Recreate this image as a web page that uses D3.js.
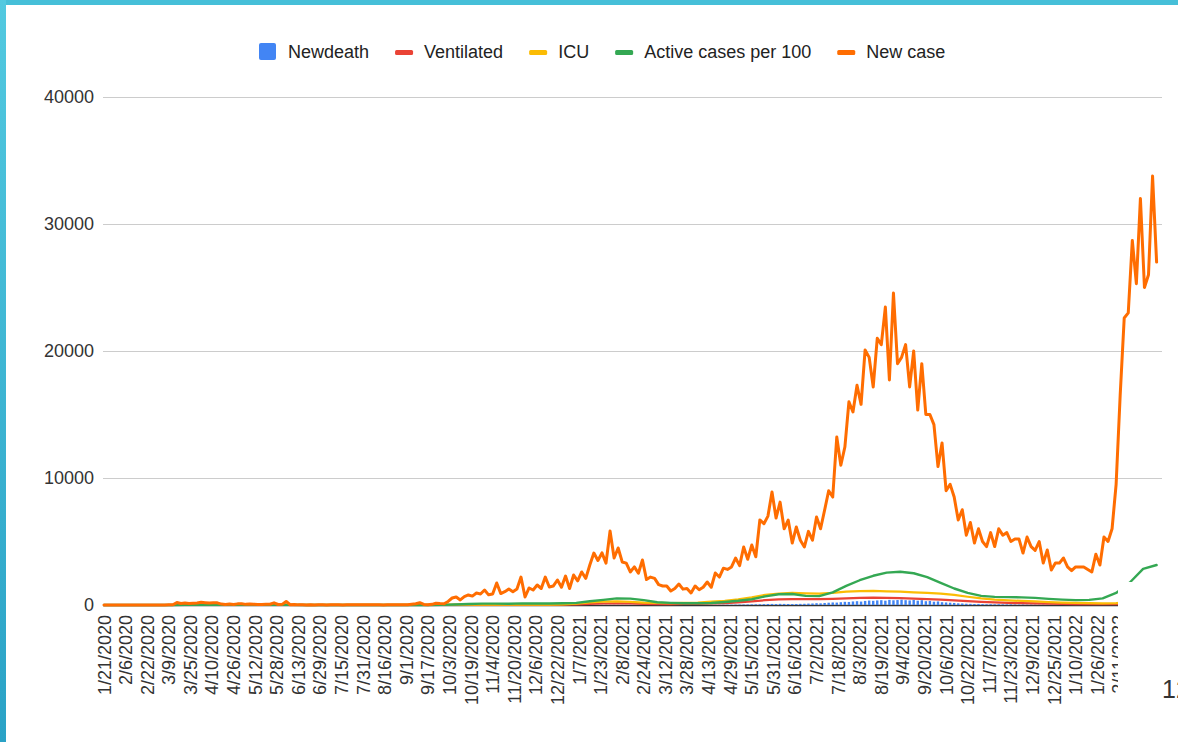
<!DOCTYPE html>
<html>
<head>
<meta charset="utf-8">
<script src="https://cdn.jsdelivr.net/npm/d3@7"></script>
<style>
html, body { margin: 0; padding: 0; background: #fff; }
svg { display: block; font-family: "Liberation Sans", Arial, sans-serif; }
</style>
</head>
<body>
<svg width="1178" height="742"></svg>
<script>
// first day of the daily data, and spacing (in days) between the values
var startDate = "1/21/2020";
var dailyStep = 3;
var smoothStep = 10;

var tickLabels = ["1/21/2020","2/6/2020","2/22/2020","3/9/2020","3/25/2020","4/10/2020","4/26/2020",
	"5/12/2020","5/28/2020","6/13/2020","6/29/2020","7/15/2020","7/31/2020","8/16/2020","9/1/2020",
	"9/17/2020","10/3/2020","10/19/2020","11/4/2020","11/20/2020","12/6/2020","12/22/2020","1/7/2021",
	"1/23/2021","2/8/2021","2/24/2021","3/12/2021","3/28/2021","4/13/2021","4/29/2021","5/15/2021",
	"5/31/2021","6/16/2021","7/2/2021","7/18/2021","8/3/2021","8/19/2021","9/4/2021","9/20/2021",
	"10/6/2021","10/22/2021","11/7/2021","11/23/2021","12/9/2021","12/25/2021","1/10/2022","1/26/2022",
	"2/11/2022"];

var yTicks = [0, 10000, 20000, 30000, 40000];

var seriesNames = ["Newdeath", "Ventilated", "ICU", "Active cases per 100", "New case"];
var seriesColors = ["#4285f4", "#ea4335", "#fbbc04", "#34a853", "#ff6d01"];

// every 3 days
var newDeath = [
	0,0,0,0,0,0,0,0,0,0,
	0,0,0,0,0,0,0,0,1,2,
	2,3,4,3,4,3,2,3,2,1,
	1,1,1,0,1,0,0,1,0,0,
	0,1,0,0,0,0,0,0,0,0,
	0,0,0,0,0,0,0,0,0,0,
	0,0,0,0,0,0,0,0,0,0,
	0,0,0,0,0,0,0,1,0,0,
	0,1,1,0,1,1,2,2,1,3,
	3,2,4,3,5,3,4,2,3,4,
	3,5,4,3,2,4,3,2,3,4,
	3,5,4,6,5,4,3,6,5,8,
	10,12,9,14,16,12,15,13,10,9,
	12,8,7,6,5,4,6,3,4,3,
	5,2,4,3,6,4,5,8,7,10,
	12,15,17,20,25,22,30,35,40,45,
	50,55,60,70,80,85,75,90,85,80,
	75,80,90,95,110,120,140,130,160,180,
	200,190,220,250,240,280,300,270,320,350,
	330,360,380,340,400,370,390,420,380,360,
	400,340,380,300,320,260,280,220,200,180,
	160,130,120,100,90,80,85,70,60,65,
	55,60,50,45,50,40,35,40,30,35,
	30,25,28,20,22,18,15,20,14,12,
	10,15,12,10,14,16,20,18,25,30,
	35,40,50,55,60,70,65,80,75,85,90];

// every 3 days
var newCase = [
	0,3,1,0,2,0,1,0,0,0,
	0,0,0,0,3,5,20,20,190,120,
	150,110,130,150,210,180,150,180,170,70,
	40,70,40,90,100,50,70,60,40,30,
	50,60,170,40,50,280,20,30,10,20,
	5,10,5,15,10,5,10,20,10,5,
	15,20,10,20,10,15,10,20,10,5,
	20,15,10,25,10,20,60,100,180,40,
	20,50,140,110,100,280,550,630,400,660,
	790,700,940,870,1180,800,870,1730,900,1050,
	1260,1050,1260,2200,630,1340,1180,1575,1300,2200,
	1420,1500,1970,1400,2280,1300,2360,1900,2600,2100,
	3150,4090,3500,4100,3300,5830,3700,4490,3390,3300,
	2600,3000,2500,3540,2000,2200,2100,1600,1500,1500,
	1100,1300,1650,1250,1300,950,1500,1200,1400,1810,
	1400,2520,2200,2900,2800,3000,3700,3100,4570,3600,
	4720,3800,6700,6400,7000,8900,6850,8100,6000,6690,
	4880,6140,5100,4570,5800,5100,6930,6000,7480,9000,
	8500,13230,11000,12440,16000,15200,17300,15800,20080,19500,
	17170,21000,20500,23460,17720,24570,19000,19500,20500,17170,
	20000,15350,19000,15000,15000,14200,10900,12760,9000,9500,
	8500,6690,7500,5500,6500,4880,6000,5000,4600,5700,
	4600,6000,5500,5700,5000,5200,5200,4090,5350,4600,
	4300,5000,3310,4330,2760,3300,3300,3700,3000,2700,
	3000,3000,3000,2800,2600,4000,3150,5350,5000,6000,
	9500,16500,22600,23000,28700,25300,32000,25000,26000,33780,27000];

// every 10 days
var ventilated = [
	0,0,0,0,0,0,15,30,30,20,
	12,8,5,4,3,2,2,2,2,2,
	2,2,2,2,2,2,8,12,15,12,
	10,15,12,15,25,45,90,120,130,120,
	90,75,70,80,90,120,150,210,290,380,
	440,470,470,460,480,520,560,580,560,540,
	500,460,420,370,310,250,200,170,150,130,
	110,90,75,65,60,60,75,90,100];

var icu = [
	0,0,0,0,0,1,30,60,60,40,
	25,15,10,8,5,4,3,3,3,3,
	3,3,3,4,5,5,25,30,35,30,
	25,40,30,35,55,100,200,270,280,250,
	180,160,150,170,190,260,330,450,600,800,
	900,950,920,900,950,1050,1100,1120,1080,1050,
	1000,950,900,800,650,520,420,360,320,280,
	230,190,160,140,130,150,200,250,270];

var activePer100 = [
	0,0,0,0,0,1,8,18,25,20,
	15,12,9,9,8,2,1,1,1,1,
	1,1,1,2,3,6,40,80,110,110,
	100,130,120,120,140,170,300,400,520,500,
	380,220,170,140,140,160,240,330,450,680,
	850,870,720,700,1000,1500,1950,2300,2550,2620,
	2500,2200,1750,1300,950,720,640,620,600,560,
	480,420,380,400,520,950,1750,2850,3150];

var parseDate = d3.timeParse("%m/%d/%Y");
var t0 = parseDate(startDate);
function dated(values, step) {
	return values.map(function(v, i) { return { date: d3.timeDay.offset(t0, i * step), value: v }; });
}

var svg = d3.select("svg");
var svgWidth = 1178, svgHeight = 742;
var margin = { top: 97, right: 16, bottom: 137, left: 103 },
	plotRight = svgWidth - margin.right,
	baseY = svgHeight - margin.bottom;

// slide background behind the pasted chart
var grad = svg.append("defs").append("linearGradient")
	.attr("id", "side").attr("x1", 0).attr("y1", 0).attr("x2", 0).attr("y2", 1);
grad.append("stop").attr("offset", "0%").attr("stop-color", "#52c9e0");
grad.append("stop").attr("offset", "100%").attr("stop-color", "#2aa2c6");
svg.append("rect").attr("width", svgWidth).attr("height", svgHeight).attr("fill", "#fff");
svg.append("rect").attr("width", svgWidth).attr("height", 5).attr("fill", "#46bfd8");
svg.append("rect").attr("width", 6).attr("height", svgHeight).attr("fill", "url(#side)");

var xScale = d3.scaleTime()
	.domain([t0, d3.timeDay.offset(t0, 784)])
	.range([104, 1162]);

var yScale = d3.scaleLinear()
	.domain([0, 40000])
	.range([baseY, margin.top]);

// gridlines + y labels
var yAxis = d3.axisLeft(yScale)
	.tickValues(yTicks)
	.tickSize(-(plotRight - margin.left))
	.tickPadding(9)
	.tickFormat(function(d) { return d; });

var gy = svg.append("g")
	.attr("transform", "translate(" + margin.left + ",0)")
	.call(yAxis);
gy.select(".domain").remove();
gy.selectAll(".tick line").attr("stroke", "#cccccc").attr("stroke-width", 1);
gy.selectAll(".tick text")
	.attr("fill", "#333")
	.style("font-size", "18px")
	.style("font-family", "'Liberation Sans', Arial, sans-serif");

// baseline
svg.append("line")
	.attr("x1", margin.left).attr("x2", plotRight)
	.attr("y1", baseY + 0.5).attr("y2", baseY + 0.5)
	.attr("stroke", "#333").attr("stroke-width", 1.5);

// x labels, rotated
svg.append("g")
	.selectAll("text")
	.data(tickLabels)
	.enter().append("text")
		.attr("transform", function(d) {
			return "translate(" + (xScale(parseDate(d)) + 6.5) + "," + (baseY + 10) + ") rotate(-90)";
		})
		.attr("text-anchor", "end")
		.attr("fill", "#333")
		.style("font-size", "18px")
		.text(function(d) { return d; });

// Newdeath as thin columns
svg.append("g")
	.selectAll("rect")
	.data(dated(newDeath, dailyStep).filter(function(d) { return d.value > 0; }))
	.enter().append("rect")
		.attr("x", function(d) { return xScale(d.date) - 1.2; })
		.attr("width", 2.4)
		.attr("y", function(d) { return yScale(d.value); })
		.attr("height", function(d) { return baseY - yScale(d.value); })
		.attr("fill", seriesColors[0]);

var line = d3.line()
	.x(function(d) { return xScale(d.date); })
	.y(function(d) { return yScale(d.value); });

var lines = [
	{ data: dated(ventilated, smoothStep), color: seriesColors[1], w: 2.2 },
	{ data: dated(icu, smoothStep), color: seriesColors[2], w: 2.2 },
	{ data: dated(activePer100, smoothStep), color: seriesColors[3], w: 2.4 },
	{ data: dated(newCase, dailyStep), color: seriesColors[4], w: 3 }
];

lines.forEach(function(s) {
	svg.append("path")
		.datum(s.data)
		.attr("fill", "none")
		.attr("stroke", s.color)
		.attr("stroke-width", s.w)
		.attr("stroke-linejoin", "round")
		.attr("stroke-linecap", "round")
		.attr("d", line);
});

// legend
var legend = svg.append("g").attr("class", "legend");
var lx = 259, ly = 52;
seriesNames.forEach(function(name, i) {
	if (i == 0) {
		legend.append("rect")
			.attr("x", lx).attr("y", ly - 9).attr("width", 17).attr("height", 17)
			.attr("rx", 2).attr("fill", seriesColors[i]);
	} else {
		legend.append("rect")
			.attr("x", lx).attr("y", ly - 2).attr("width", 18).attr("height", 5)
			.attr("rx", 1.5).attr("fill", seriesColors[i]);
	}
	var t = legend.append("text")
		.attr("x", lx + 29).attr("y", ly + 6)
		.attr("fill", "#222")
		.style("font-size", "18px")
		.text(name);
	lx += 29 + t.node().getComputedTextLength() + 26;
});

// white box of the slide covering the corner, with the page number
svg.append("rect")
	.attr("x", 1118).attr("y", 582).attr("width", 60).attr("height", 160)
	.attr("fill", "#fff");
svg.append("text")
	.attr("x", 1162).attr("y", 698)
	.attr("fill", "#333")
	.style("font-size", "25px")
	.text("12");
</script>
</body>
</html>
